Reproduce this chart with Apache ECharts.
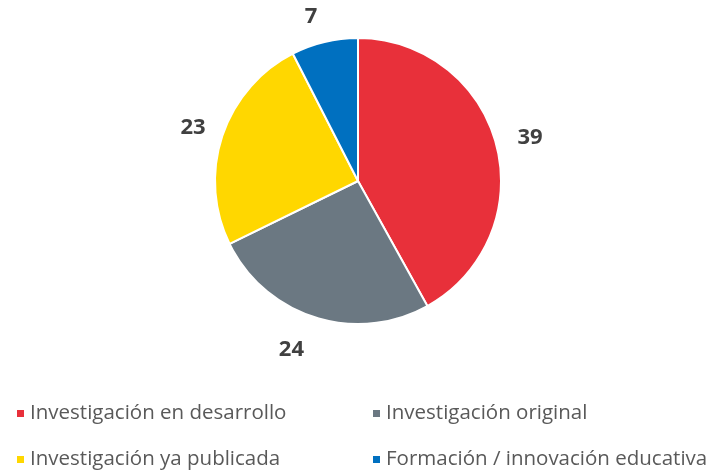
<!DOCTYPE html>
<html>
<head>
<meta charset="utf-8">
<script src="https://cdn.jsdelivr.net/npm/echarts@6/dist/echarts.min.js"></script>
<style>
html,body{margin:0;padding:0;background:#fff;}
#chart{width:716px;height:470px;}
</style>
</head>
<body>
<div id="chart"></div>
<script>
var categories = ['Investigación en desarrollo', 'Investigación original', 'Investigación ya publicada', 'Formación / innovación educativa'];
var values = [39, 24, 23, 7];
var colors = ['#E8303A', '#6B7882', '#FFD700', '#0070C0'];

var myChart = echarts.init(document.getElementById('chart'));

// posicion de cada leyenda (2 x 2)
var legendPos = [
	{left: 10, top: 398},
	{left: 366, top: 398},
	{left: 10, top: 444},
	{left: 366, top: 444}
];
// distancia de la etiqueta al borde
var labelLen = [
	{length: 29, length2: -12},
	{length: 34, length2: -4},
	{length: 25, length2: -12},
	{length: 26, length2: -4}
];
var legends = [];
for (var i = 0; i < categories.length; i++) {
	legends.push({
		data: [categories[i]],
		left: legendPos[i].left,
		top: legendPos[i].top,
		icon: 'rect',
		itemWidth: 9,
		itemHeight: 9,
		itemGap: 6,
		textStyle: {
			fontFamily: 'Open Sans',
			fontSize: 20.5,
			color: '#595959'
		}
	});
}

var seriesData = [];
for (var j = 0; j < categories.length; j++) {
	seriesData.push({
		name: categories[j],
		value: values[j],
		itemStyle: {color: colors[j]},
		labelLine: {show: false, length: labelLen[j].length, length2: labelLen[j].length2}
	});
}

var option = {
	animation: false,
	legend: legends,
	series: [
		{
			type: 'pie',
			center: [358, 181],
			radius: 143,
			startAngle: 90,
			clockwise: true,
			itemStyle: {
				borderColor: '#fff',
				borderWidth: 2
			},
			label: {
				show: true,
				position: 'outside',
				formatter: '{c}',
				fontFamily: 'Open Sans',
				fontWeight: 'bold',
				fontSize: 22,
				color: '#404040'
			},
			labelLine: {
				show: false
			},
			data: seriesData
		}
	]
};
myChart.setOption(option);
</script>
</body>
</html>
